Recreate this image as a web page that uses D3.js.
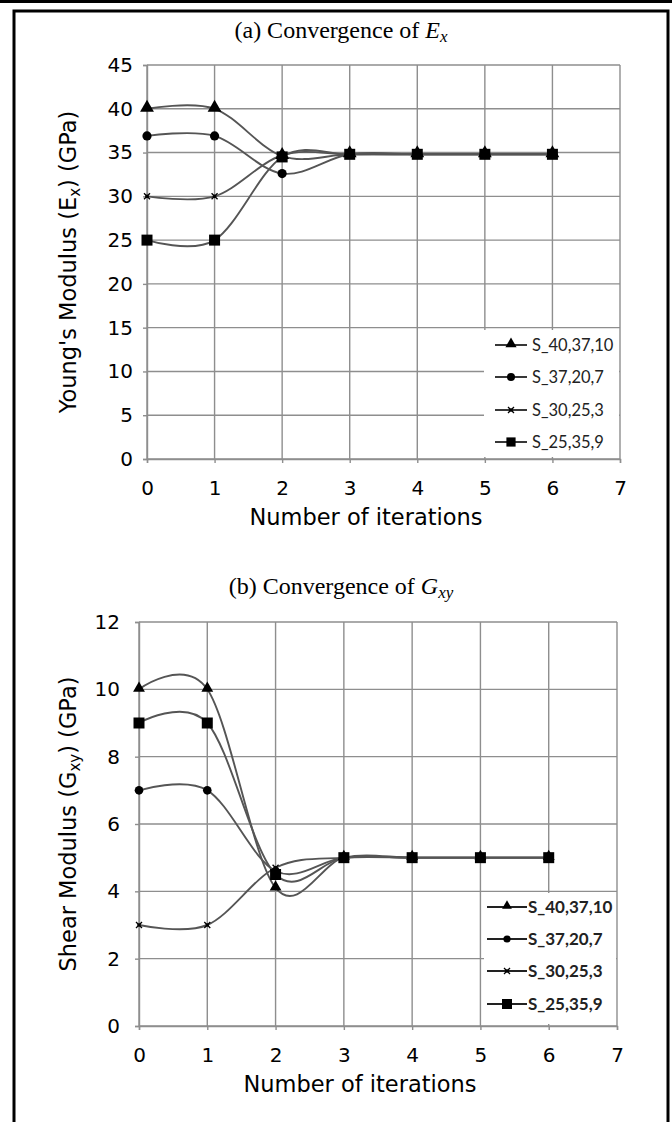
<!DOCTYPE html>
<html>
<head>
<meta charset="utf-8">
<script src="https://cdn.jsdelivr.net/npm/d3@7"></script>
<style>
body { margin: 0; background: #fff; }
svg { display: block; }
</style>
</head>
<body>
<svg id="fig" width="672" height="1122"></svg>
<script>
// iterations on the x axis
var iterations = [0, 1, 2, 3, 4, 5, 6];
var xTicks = [0, 1, 2, 3, 4, 5, 6, 7];

var seriesNames = ['S_40,37,10', 'S_37,20,7', 'S_30,25,3', 'S_25,35,9'];
var markerTypes = ['triangle', 'circle', 'cross', 'square'];

// (a) Young's modulus Ex, GPa
var ex_40_37_10 = [40, 40, 34.6, 34.8, 34.8, 34.8, 34.8];
var ex_37_20_7  = [36.9, 36.9, 32.6, 34.8, 34.8, 34.8, 34.8];
var ex_30_25_3  = [30, 30, 34.7, 34.8, 34.8, 34.8, 34.8];
var ex_25_35_9  = [25, 25, 34.5, 34.8, 34.8, 34.8, 34.8];
var exTicks = [0, 5, 10, 15, 20, 25, 30, 35, 40, 45];

// (b) shear modulus Gxy, GPa
var gxy_40_37_10 = [10, 10, 4.1, 5, 5, 5, 5];
var gxy_37_20_7  = [7, 7, 4.6, 5, 5, 5, 5];
var gxy_30_25_3  = [3, 3, 4.7, 5, 5, 5, 5];
var gxy_25_35_9  = [9, 9, 4.5, 5, 5, 5, 5];
var gxyTicks = [0, 2, 4, 6, 8, 10, 12];

var svg = d3.select('#fig');

// page frame
svg.append('rect').attr('x', 0).attr('y', 0).attr('width', 672).attr('height', 3).attr('fill', '#000');
svg.append('rect')
  .attr('x', 14).attr('y', 11).attr('width', 654).attr('height', 1200)
  .attr('fill', 'none').attr('stroke', '#000').attr('stroke-width', 3);

var gridColor = '#8e8e8e';

function drawMarker(g, type, cx, cy, s) {
  if (type == 'cross') {
    g.append('path')
      .attr('d', 'M' + (cx - s) + ',' + (cy - s) + 'L' + (cx + s) + ',' + (cy + s) +
                 'M' + (cx - s) + ',' + (cy + s) + 'L' + (cx + s) + ',' + (cy - s))
      .attr('stroke', '#000').attr('stroke-width', 1.3);
    g.append('circle').attr('cx', cx).attr('cy', cy).attr('r', 1.8).attr('fill', '#000');
    return;
  }
  var sym = { triangle: d3.symbolTriangle, circle: d3.symbolCircle, square: d3.symbolSquare }[type];
  var area = { triangle: 0.45 * s * s * 4, circle: Math.PI * s * s, square: 4 * s * s }[type];
  g.append('path')
    .attr('d', d3.symbol().type(sym).size(area)())
    .attr('transform', 'translate(' + cx + ',' + (type == 'triangle' ? cy - 1 : cy) + ')')
    .attr('fill', '#000');
}

function drawPanel(p) {
  var x = d3.scaleLinear().domain([0, 7]).range([p.left, p.right]);
  var y = d3.scaleLinear().domain([0, p.yMax]).range([p.bottom, p.top]);
  var g = svg.append('g');

  // gridlines
  g.selectAll('.hg').data(p.yTicks).enter().append('line')
    .attr('x1', x(0)).attr('x2', x(7))
    .attr('y1', function (d) { return y(d); }).attr('y2', function (d) { return y(d); })
    .attr('stroke', gridColor).attr('stroke-width', 1.4);
  g.selectAll('.vg').data(xTicks).enter().append('line')
    .attr('x1', function (d) { return x(d); }).attr('x2', function (d) { return x(d); })
    .attr('y1', y(0)).attr('y2', y(p.yMax))
    .attr('stroke', gridColor).attr('stroke-width', 1.4);

  // axes (labels + small ticks)
  var ax = g.append('g').attr('transform', 'translate(0,' + y(0) + ')')
    .call(d3.axisBottom(x).tickValues(xTicks).tickFormat(d3.format('d')).tickSize(4).tickPadding(18));
  var ay = g.append('g').attr('transform', 'translate(' + x(0) + ',0)')
    .call(d3.axisLeft(y).tickValues(p.yTicks).tickFormat(d3.format('d')).tickSize(4).tickPadding(p.yPad));
  [ax, ay].forEach(function (a) {
    a.select('.domain').attr('stroke', gridColor).attr('stroke-width', 1.4);
    a.selectAll('.tick line').attr('stroke', gridColor).attr('stroke-width', 1.4);
    a.selectAll('.tick text').attr('fill', '#000')
      .style('font-family', 'DejaVu Sans').style('font-size', '20px');
  });

  // legend box covers the grid
  var lg = g.append('g');
  lg.append('rect').attr('x', p.leg.x).attr('y', p.leg.y)
    .attr('width', p.leg.w).attr('height', p.leg.h).attr('fill', '#fff');

  // series
  var line = d3.line()
    .x(function (d, i) { return x(iterations[i]); })
    .y(function (d) { return y(d); })
    .curve(d3.curveCardinal.tension(0));
  p.series.forEach(function (vals) {
    g.append('path').attr('d', line(vals))
      .attr('fill', 'none').attr('stroke', '#555').attr('stroke-width', 1.9);
  });
  p.series.forEach(function (vals, k) {
    vals.forEach(function (v, i) {
      drawMarker(g, markerTypes[k], x(iterations[i]), y(v), p.mk[k]);
    });
  });

  // legend entries
  seriesNames.forEach(function (name, k) {
    var ry = p.leg.rows[k];
    lg.append('line').attr('x1', p.leg.lx0).attr('x2', p.leg.lx1).attr('y1', ry).attr('y2', ry)
      .attr('stroke', '#222').attr('stroke-width', 1.8);
    drawMarker(lg, markerTypes[k], (p.leg.lx0 + p.leg.lx1) / 2, ry, p.leg.mk[k]);
    lg.append('text').attr('x', p.leg.tx).attr('y', ry + 5.5)
      .style('font-family', 'Lato').style('font-size', p.leg.fs + 'px')
      .style('font-weight', p.leg.bold ? 'bold' : 'normal')
      .attr('fill', '#222')
      .text(name);
  });

  // chart title
  var t = svg.append('text').attr('x', 341).attr('y', p.titleY)
    .attr('text-anchor', 'middle')
    .style('font-family', 'Liberation Serif').style('font-size', '24px');
  t.append('tspan').text(p.title[0]);
  t.append('tspan').style('font-style', 'italic').text(p.title[1]);
  t.append('tspan').style('font-style', 'italic').style('font-size', '17px')
    .attr('dy', 4).text(p.title[2]);

  // axis titles
  svg.append('text').attr('x', p.xTitleX).attr('y', y(0) + 66)
    .attr('text-anchor', 'middle')
    .style('font-family', 'DejaVu Sans').style('font-size', '22.5px')
    .text('Number of iterations');
  var yt = svg.append('text')
    .attr('transform', 'translate(76,' + (p.top + p.bottom) / 2 + ') rotate(-90)')
    .attr('text-anchor', 'middle')
    .style('font-family', 'DejaVu Sans').style('font-size', '22.5px');
  yt.append('tspan').text(p.yTitle[0]);
  yt.append('tspan').style('font-size', '15px').attr('dy', 4).text(p.yTitle[1]);
  yt.append('tspan').attr('dy', -4).text(p.yTitle[2]);
}

drawPanel({
  left: 147, right: 620, top: 65, bottom: 459, yMax: 45, yTicks: exTicks, yPad: 10,
  series: [ex_40_37_10, ex_37_20_7, ex_30_25_3, ex_25_35_9],
  mk: [6.8, 4.6, 3, 5.5],
  title: ['(a) Convergence of ', 'E', 'x'], titleY: 38,
  yTitle: ["Young's Modulus (E", 'x', ') (GPa)'], xTitleX: 366,
  leg: { x: 484, y: 330, w: 135, h: 127, rows: [345, 377, 410, 442],
         lx0: 495, lx1: 527, tx: 532, fs: 16.5, bold: false, mk: [5.5, 4, 3, 4.6] }
});

drawPanel({
  left: 139, right: 617, top: 622, bottom: 1026, yMax: 12, yTicks: gxyTicks, yPad: 15,
  series: [gxy_40_37_10, gxy_37_20_7, gxy_30_25_3, gxy_25_35_9],
  mk: [5.8, 4.3, 3, 5.5],
  title: ['(b) Convergence of ', 'G', 'xy'], titleY: 594,
  yTitle: ['Shear Modulus (G', 'xy', ') (GPa)'], xTitleX: 360,
  leg: { x: 484, y: 893, w: 132, h: 131, rows: [907, 939, 971, 1004],
         lx0: 487, lx1: 527, tx: 528, fs: 17, bold: true, mk: [4.8, 3.6, 3, 5] }
});
</script>
</body>
</html>
